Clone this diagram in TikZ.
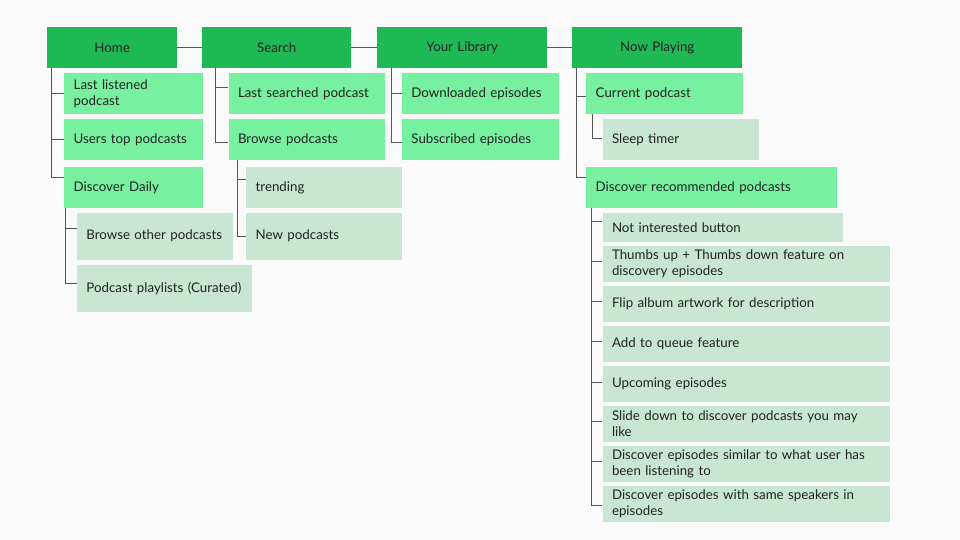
\documentclass[tikz,border=0pt]{standalone}
\usepackage{fontspec}
\setmainfont{Lato}
\definecolor{bg}{HTML}{FAFAFA}
\definecolor{topg}{HTML}{1EB955}
\definecolor{midg}{HTML}{77F0A0}
\definecolor{lowg}{HTML}{C8E6D2}
\definecolor{txt}{HTML}{222222}
\definecolor{ln}{HTML}{555555}
\begin{document}
\begin{tikzpicture}[x=1pt,y=-1pt,
  base/.style={anchor=north west, inner ysep=0pt, inner xsep=9.5pt, text=txt,
    font=\fontsize{13.3}{16}\selectfont, align=left},
  topbox/.style={base, fill=topg, align=center, minimum height=40.5pt},
  midbox/.style={base, fill=midg},
  lowbox/.style={base, fill=lowg},
  conn/.style={draw=ln, line width=1pt}]
\fill[bg] (0,0) rectangle (960,540);
\useasboundingbox (0,0) rectangle (960,540);
% top level
\node[topbox, minimum width=130pt, text width=111pt] (home) at (47,27) {Home};
\node[topbox, minimum width=149pt, text width=130pt] (search) at (202,27) {Search};
\node[topbox, minimum width=170pt, text width=151pt] (lib) at (377,27) {Your Library};
\node[topbox, minimum width=170pt, text width=151pt] (now) at (572,27) {Now Playing};
% home branch
\node[midbox, minimum height=41pt, text width=120pt] (ll) at (64,73) {Last listened\\podcast};
\node[midbox, minimum height=41pt, text width=120pt] (ut) at (64,119) {Users top podcasts};
\node[midbox, minimum height=41pt, text width=120pt] (dd) at (64,166.7) {Discover Daily};
\node[lowbox, minimum height=46.6pt, text width=137.3pt] (bo) at (76.7,212.7) {Browse other podcasts};
\node[lowbox, minimum height=47.4pt, text width=156pt] (pp) at (76.7,264.3) {Podcast playlists (Curated)};
% search branch
\node[midbox, minimum height=41pt, text width=137pt] (ls) at (228.3,73) {Last searched podcast};
\node[midbox, minimum height=41pt, text width=137pt] (bp) at (228.3,119) {Browse podcasts};
\node[lowbox, minimum height=41pt, text width=137pt] (tr) at (246,166.7) {trending};
\node[lowbox, minimum height=46.6pt, text width=137pt] (np) at (246,212.7) {New podcasts};
% library branch
\node[midbox, minimum height=41pt, text width=138pt] (de) at (401.7,73) {Downloaded episodes};
\node[midbox, minimum height=41pt, text width=138pt] (se) at (401.7,119) {Subscribed episodes};
% now playing branch
\node[midbox, minimum height=41pt, text width=137.3pt] (cp) at (586,73) {Current podcast};
\node[lowbox, minimum height=41pt, text width=137.7pt] (st) at (602.3,119) {Sleep timer};
\node[midbox, minimum height=41pt, text width=232pt] (dr) at (586,166.7) {Discover recommended podcasts};
\node[lowbox, minimum height=29pt, text width=221.7pt] (ni) at (602.3,212.7) {Not interested button};
\node[lowbox, minimum height=35.7pt, text width=268.7pt] (th) at (602.3,246) {Thumbs up + Thumbs down feature on\\discovery episodes};
\node[lowbox, minimum height=35.7pt, text width=268.7pt] (fa) at (602.3,286) {Flip album artwork for description};
\node[lowbox, minimum height=35.7pt, text width=268.7pt] (aq) at (602.3,326) {Add to queue feature};
\node[lowbox, minimum height=35.7pt, text width=268.7pt] (ue) at (602.3,366) {Upcoming episodes};
\node[lowbox, minimum height=35.7pt, text width=268.7pt] (sd) at (602.3,406) {Slide down to discover podcasts you may\\like};
\node[lowbox, minimum height=35.7pt, text width=268.7pt] (si) at (602.3,446) {Discover episodes similar to what user has\\been listening to};
\node[lowbox, minimum height=35.7pt, text width=268.7pt] (ss) at (602.3,486) {Discover episodes with same speakers in\\episodes};
% connectors
\draw[conn] (home.east) -- (search.west);
\draw[conn] (search.east) -- (lib.west);
\draw[conn] (lib.east) -- (now.west);
\draw[conn] ([xshift=4pt]home.south west) |- (ll.west);
\draw[conn] ([xshift=4pt]home.south west) |- (ut.west);
\draw[conn] ([xshift=4pt]home.south west) |- ([yshift=10pt]dd.west);
\draw[conn] ([xshift=1.7pt]dd.south west) |- ([yshift=7.7pt]bo.west);
\draw[conn] ([xshift=1.7pt]dd.south west) |- ([yshift=4.7pt]pp.west);
\draw[conn] ([xshift=13.7pt]search.south west) |- ([yshift=6.2pt]ls.west);
\draw[conn] ([xshift=13.7pt]search.south west) |- ([yshift=-3.2pt]bp.west);
\draw[conn] ([xshift=9.4pt]bp.south west) |- ([yshift=7.9pt]tr.west);
\draw[conn] ([xshift=9.4pt]bp.south west) |- (np.west);
\draw[conn] ([xshift=14.7pt]lib.south west) |- (de.west);
\draw[conn] ([xshift=14.7pt]lib.south west) |- ([yshift=-3.2pt]se.west);
\draw[conn] ([xshift=4.7pt]now.south west) |- ([yshift=-2.5pt]cp.west);
\draw[conn] ([xshift=4.7pt]now.south west) |- ([yshift=10pt]dr.west);
\draw[conn] ([xshift=6.3pt]cp.south west) |- ([yshift=1pt]st.west);
\draw[conn] ([xshift=5.7pt]dr.south west) |- ([yshift=6pt]ni.west);
\draw[conn] ([xshift=5.7pt]dr.south west) |- ([yshift=3pt]th.west);
\draw[conn] ([xshift=5.7pt]dr.south west) |- ([yshift=3pt]fa.west);
\draw[conn] ([xshift=5.7pt]dr.south west) |- ([yshift=3pt]aq.west);
\draw[conn] ([xshift=5.7pt]dr.south west) |- ([yshift=2pt]ue.west);
\draw[conn] ([xshift=5.7pt]dr.south west) |- ([yshift=3pt]sd.west);
\draw[conn] ([xshift=5.7pt]dr.south west) |- ([yshift=3pt]si.west);
\draw[conn] ([xshift=5.7pt]dr.south west) |- ([yshift=-1pt]ss.west);
\end{tikzpicture}
\end{document}
